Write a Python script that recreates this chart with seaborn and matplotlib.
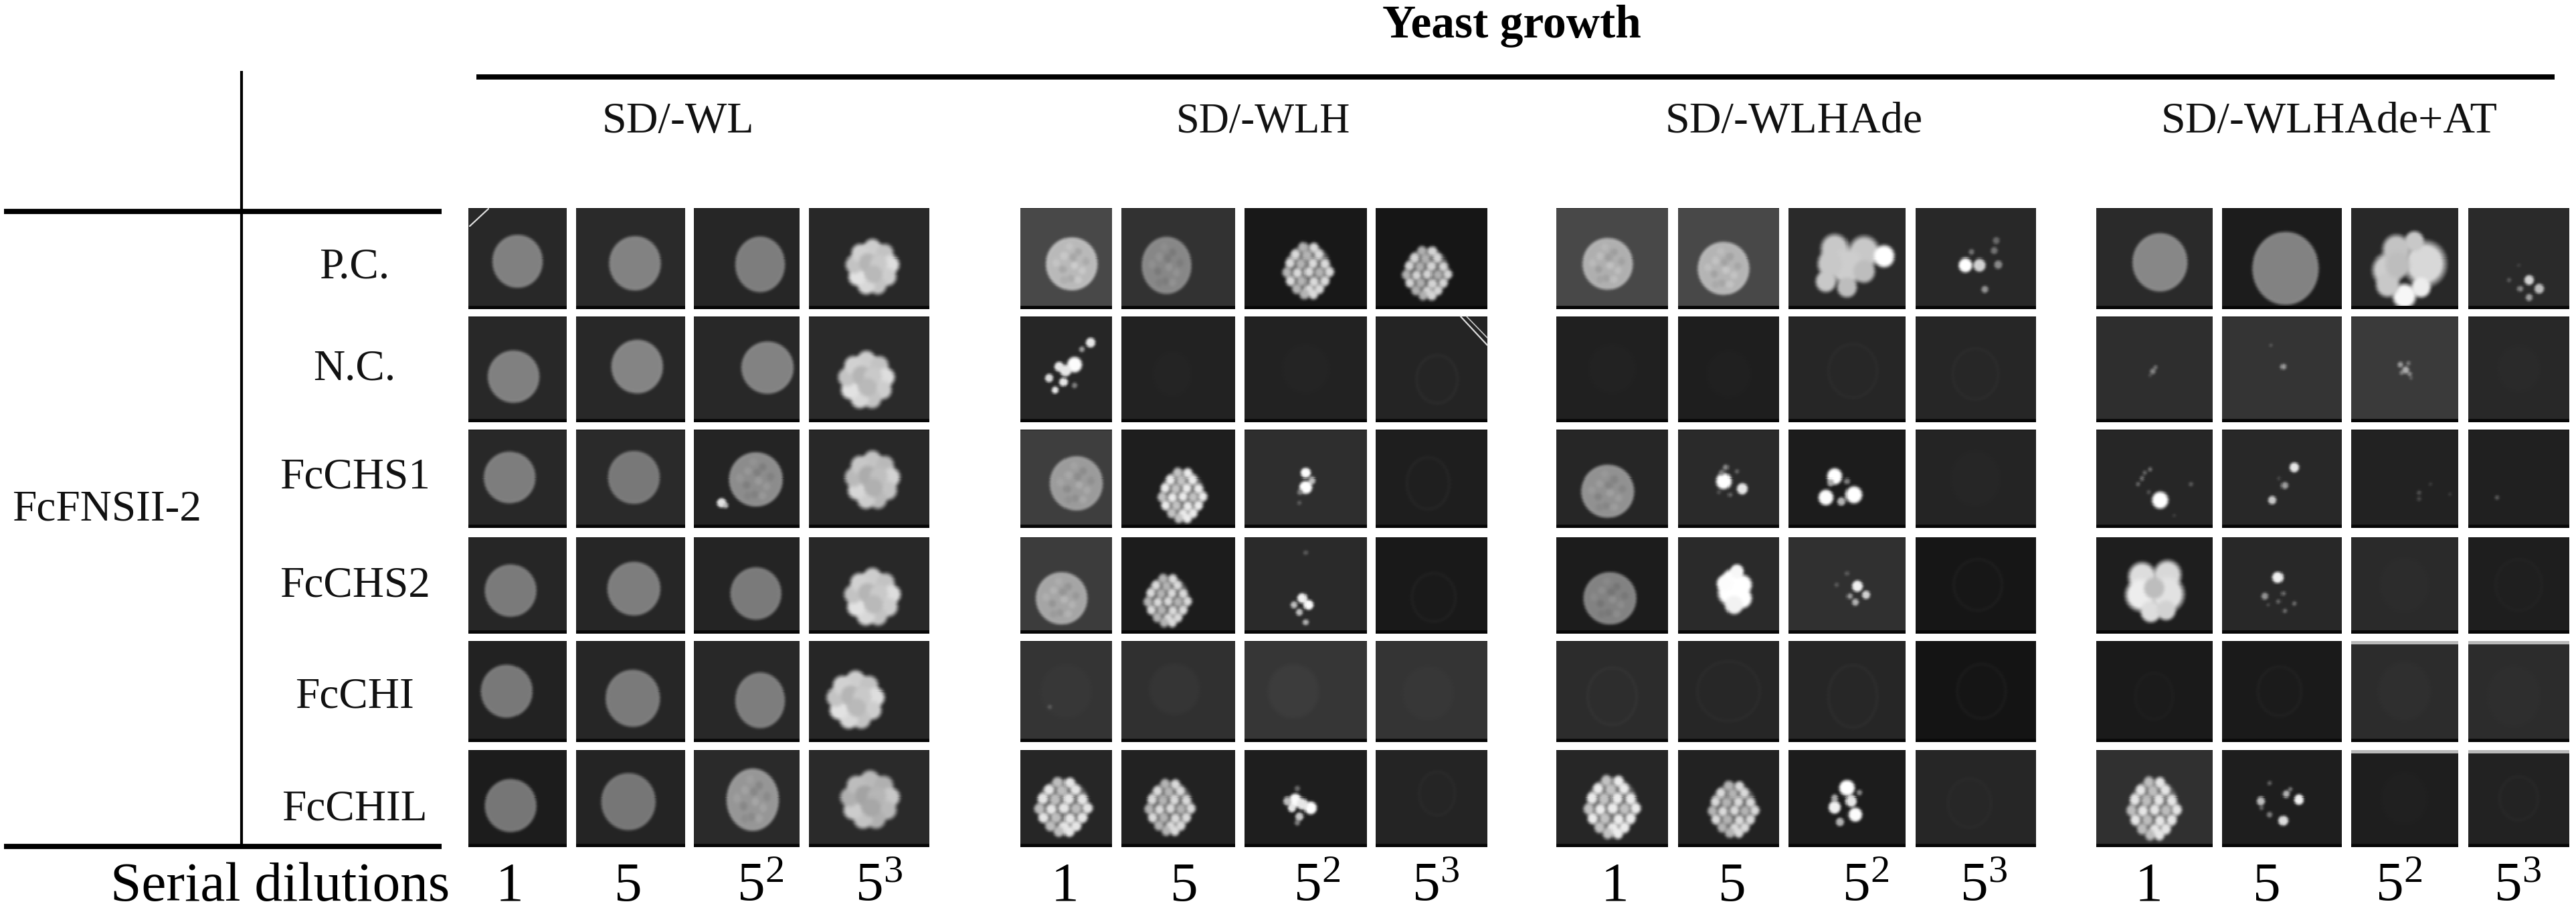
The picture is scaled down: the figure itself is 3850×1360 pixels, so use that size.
import numpy as np
import matplotlib
matplotlib.use("Agg")
import matplotlib.pyplot as plt
import seaborn as sns

# ---------------- labels ----------------
title = "Yeast growth"
media = ["SD/-WL", "SD/-WLH", "SD/-WLHAde", "SD/-WLHAde+AT"]
preys = ["P.C.", "N.C.", "FcCHS1", "FcCHS2", "FcCHI", "FcCHIL"]
bait = "FcFNSII-2"
dilution_title = "Serial dilutions"
dilutions = ["1", "5", "5$^{2}$", "5$^{3}$"]

# ---------------- plate background grey per spot (rows x 16) ----------------
background = [
    [40, 42, 38, 40,  72, 50, 24, 22,  72, 72, 42, 40,  42, 28, 40, 42],
    [40, 40, 40, 42,  38, 34, 34, 36,  32, 30, 38, 38,  46, 52, 58, 40],
    [40, 42, 36, 40,  62, 30, 46, 30,  38, 42, 28, 36,  38, 40, 34, 32],
    [38, 38, 36, 40,  60, 28, 42, 25,  28, 42, 48, 22,  30, 40, 42, 30],
    [34, 38, 40, 38,  52, 48, 54, 52,  44, 38, 38, 20,  26, 26, 44, 44],
    [28, 36, 42, 42,  38, 34, 30, 36,  38, 34, 28, 38,  48, 30, 30, 34],
]
top_glare = {(4, 14), (4, 15), (5, 14), (5, 15)}

# ---------------- specks: (dx, dy, radius, grey) ----------------
sp_nc_h1 = [(36,-39,7,220),(23,-29,4,150),(12,-6,11,240),(-10,-3,7,220),(-1,3,8,220),(-25,14,6,210),(-4,20,6,220),(12,25,4,120),(-16,32,5,220)]
sp_pc_a4 = [(-15,10,10,250),(6,10,9,200),(34,9,6,130),(-6,-9,4,110),(28,-11,5,110),(31,-26,5,100),(14,46,5,140)]
sp_pc_t4 = [(15,32,7,200),(30,45,7,180),(2,45,4,130),(15,58,5,150),(-14,32,3,90),(0,10,2,70)]
sp_s1_h3 = [(0,-8,7,240),(9,3,5,180),(0,13,9,250),(-8,20,4,120),(-9,36,3,90)]
sp_s1_a2 = [(-7,4,11,255),(20,15,8,220),(-4,-16,4,130),(-10,-8,4,120),(12,-10,3,100),(2,24,3,100),(-14,20,3,80)]
sp_s1_a3 = [(-18,-3,11,250),(-31,28,11,240),(10,24,12,250),(-24,6,5,160),(0,4,4,120),(-8,34,6,170)]
sp_s1_t1 = [(9,32,12,255),(-18,0,3,110),(-6,-13,3,110),(-24,8,3,100),(-14,-8,3,100),(55,8,3,90),(30,55,2,70),(-8,20,3,80)]
sp_s1_t2 = [(18,-16,7,220),(4,10,5,150),(-14,32,6,190),(-4,0,2,80)]
sp_s1_t3 = [(22,21,3,80),(39,8,2,70),(68,23,2,65),(22,30,3,70)]
sp_s1_t4 = [(-32,28,3,90)]
sp_s2_h3 = [(-5,20,7,230),(4,30,7,240),(-9,41,5,180),(-17,30,5,180),(0,56,4,170),(0,-48,3,90)]
sp_s2_a3 = [(15,2,8,230),(28,15,6,200),(4,17,4,150),(12,26,5,170),(0,-17,3,90),(-15,0,3,90)]
sp_s2_t2 = [(-6,-11,8,230),(-25,17,5,140),(2,13,3,110),(18,28,3,110),(4,39,3,110),(-20,30,2,90),(-5,25,3,100)]
sp_il_h3 = [(-15,3,9,240),(7,14,9,250),(-9,27,6,190),(-27,4,6,180),(-12,-14,4,100),(-20,14,6,220),(-5,8,8,220),(-12,36,4,120)]
sp_il_a3 = [(0,-15,11,250),(-18,13,9,230),(12,24,10,240),(6,4,8,220),(-10,35,6,170),(-18,0,5,160),(18,-8,4,130)]
sp_il_t2 = [(25,2,7,230),(-31,4,6,180),(6,-6,5,170),(-18,-22,3,100),(2,33,7,210),(-18,24,4,120),(-30,14,3,100),(12,-13,3,120)]
sp_nc_t1 = [(-2,4,4,125),(2,-2,3,110),(-6,10,2,90)]
sp_nc_t2 = [(2,-3,4,150),(-16,-35,2,100)]
sp_nc_t3 = [(-6,-6,4,150),(2,2,5,165),(8,8,3,140),(-4,6,3,130),(6,-8,3,120),(10,14,2,110)]
sp_chs1_w3 = [(-37,36,7,225),(-31,40,4,190)]
sp_chi_h1 = [(-24,23,3,95)]

# merged lumps of big cells: (dx, dy, radius, grey)
lump_pc_a3 = [(-18,-14,20,190),(25,-9,22,190),(0,12,24,195),(55,-3,15,245),(-31,34,15,190),(0,43,14,180),(25,19,16,180),(-25,8,18,190)]
lump_pc_t3 = [(-25,17,22,195),(31,8,30,205),(-12,-13,20,185),(0,56,17,235),(25,43,14,225),(-25,39,17,190),(15,-25,14,190),(-10,10,18,180)]
lump_s2_a2 = [(5,-8,14,245),(20,0,14,250),(2,12,17,255),(20,20,14,245),(8,30,13,230),(-5,-2,12,240),(12,-20,10,235)]
lump_s2_t1 = [(-18,-12,20,210),(20,-15,20,205),(-20,15,22,225),(20,14,24,215),(-5,40,15,210),(18,38,14,200),(0,5,15,180)]

# ---------------- spots per prey: (kind, fx, fy, rx, ry, grey) ----------------
# L lawn, M mottled lawn, C coarse cells, F fine cells, G ghost print, R ghost ring
spots_pc = [("L",.50,.53,37,39,128),("L",.54,.55,38,40,130),("L",.63,.56,37,41,125),("C",.53,.58,37,38,205),
            ("M",.56,.555,38,39,185),("M",.40,.57,37,42,135),("F",.52,.61,37,40,190),("F",.46,.635,36,38,185),
            ("M",.46,.555,37,38,175),("M",.45,.60,38,39,180),lump_pc_a3,sp_pc_a4,
            ("L",.55,.54,41,43,135),("L",.53,.60,49,54,130),lump_pc_t3,sp_pc_t4]
spots_nc = [("L",.46,.575,38,39,128),("L",.56,.48,38,40,132),("L",.70,.49,39,39,130),("C",.48,.60,39,40,205),
            sp_nc_h1,("G",.45,.55,30,35,2),("G",.5,.5,36,38,2),("R",.55,.6,32,38,5),
            ("G",.5,.5,36,38,2),("G",.5,.55,34,36,2),("R",.55,.52,38,42,3),("R",.5,.55,36,40,3),
            sp_nc_t1,sp_nc_t2,sp_nc_t3,("G",.5,.5,32,36,2)]
spots_s1 = [("L",.42,.49,38,38,125),("L",.53,.49,38,39,120),("M",.59,.51,40,40,140),("C",.53,.51,38,40,195),
            ("M",.61,.55,39,40,155),("F",.54,.66,36,39,205),sp_s1_h3,("R",.47,.55,33,40,5),
            ("M",.46,.63,39,39,145),sp_s1_a2,sp_s1_a3,("G",.5,.5,38,42,2),
            sp_s1_t1,sp_s1_t2,sp_s1_t3,sp_s1_t4]
spots_s2 = [("L",.43,.56,38,39,122),("L",.53,.54,39,40,125),("L",.59,.59,38,39,122),("C",.53,.62,39,40,205),
            ("M",.45,.64,38,39,165),("F",.41,.65,35,38,190),sp_s2_h3,("R",.52,.63,34,38,5),
            ("M",.48,.64,39,39,130),lump_s2_a2,sp_s2_a3,("R",.52,.5,38,40,5),
            lump_s2_t1,sp_s2_t2,("G",.5,.5,38,42,2),("R",.5,.5,36,40,2)]
spots_hi = [("L",.39,.50,38,39,120),("L",.52,.57,40,42,122),("L",.63,.59,37,41,125),("C",.39,.58,40,40,205),
            ("G",.5,.5,38,40,3),("G",.47,.48,38,38,5),("G",.4,.5,38,40,6),("G",.47,.52,38,40,3),
            ("R",.5,.55,38,44,4),("R",.5,.5,48,46,3),("R",.55,.55,38,48,4),("R",.55,.5,38,42,5),
            ("R",.5,.55,30,36,2),("R",.48,.5,34,38,4),("G",.5,.5,40,44,3),("G",.45,.55,40,46,2)]
spots_il = [("L",.43,.575,38,39,118),("L",.48,.535,40,42,118),("M",.56,.515,39,46,150),("C",.51,.51,41,40,185),
            ("F",.47,.575,42,42,200),("F",.43,.58,37,40,190),sp_il_h3,("R",.55,.45,28,34,3),
            ("F",.50,.575,41,45,205),("F",.55,.60,37,40,190),sp_il_a3,("R",.45,.55,34,38,2),
            ("F",.50,.59,40,45,200),sp_il_t2,("G",.5,.5,36,40,2),("R",.5,.5,30,34,3)]
spot_rows = [spots_pc, spots_nc, spots_s1, spots_s2, spots_hi, spots_il]

FINE = [(-.2,-.82),(.22,-.8),(-.5,-.55),(-.05,-.52),(.42,-.55),(-.72,-.25),(-.28,-.22),(.18,-.24),(.66,-.22),
        (-.85,.1),(-.42,.12),(.02,.08),(.44,.1),(.85,.08),(-.7,.42),(-.25,.42),(.22,.45),(.66,.42),
        (-.45,.72),(.02,.74),(.44,.72),(-.15,.92),(.2,.92)]
COARSE = [(0,-.72),(.5,-.52),(.74,-.08),(.62,.4),(.22,.74),(-.25,.74),(-.62,.4),(-.74,-.08),(-.5,-.52),(-.2,-.15),(.25,-.1),(.05,.3)]
COARSE_TONE = [1,.95,1.08,1,.95,1.05,1.1,.95,1.02,.88,.98,.9]
MOTTLE = [(-.3,-.3),(.25,-.45),(.1,.05),(-.35,.2),(.4,.25),(-.05,.55),(-.1,-.65),(.55,-.1),(-.6,-.05),(.25,.6),(-.3,.6),(.05,-.25)]
MOTTLE_TONE = [1.08,.9,1.1,.9,1.08,.92,1.05,.92,1.06,1.08,.94,.9]

# ---------------- layout (reference pixels) ----------------
W, H = 3850, 1360
col_edges = [(700,847),(861,1024),(1037,1195),(1209,1389),
             (1525,1662),(1676,1846),(1860,2043),(2056,2223),
             (2326,2493),(2508,2659),(2673,2848),(2863,3043),
             (3133,3307),(3321,3500),(3514,3674),(3689,3840)]
row_edges = [(311,462),(473,631),(642,789),(803,947),(958,1109),(1121,1266)]
col_label_x = [761,939,1136,1314, 1592,1770,1968,2146, 2414,2589,2788,2965, 3212,3388,3585,3763]
media_x = [1013, 1888, 2681, 3481]
media_size = [47.5, 45, 47.5, 47.5]
prey_y = [400, 552, 714, 876, 1042, 1210]


def blob(g, xx, yy, cx, cy, rx, ry, v, soft=3.5):
    d = np.sqrt(((xx - cx) / rx) ** 2 + ((yy - cy) / ry) ** 2)
    w = np.clip((1 - d) * min(rx, ry) / soft + .5, 0, 1)
    g[:] = g * (1 - w) + v * w


def smooth(g):
    kernel = np.array([.25, .5, .25])
    g = np.apply_along_axis(lambda m: np.convolve(np.pad(m, 1, mode="edge"), kernel, mode="valid"), 0, g)
    g = np.apply_along_axis(lambda m: np.convolve(np.pad(m, 1, mode="edge"), kernel, mode="valid"), 1, g)
    return g


def render(bg, spec, w, h, glare, extra=None):
    step = 2
    xs = np.arange(step / 2, w, step)
    ys = np.arange(step / 2, h, step)
    xx, yy = np.meshgrid(xs, ys)
    g = np.full(xx.shape, float(bg))
    if isinstance(spec, list):
        for dx, dy, r, v in spec:
            blob(g, xx, yy, w / 2 + dx, h / 2 + dy, r, r * 1.05, min(255, v * 1.05), soft=max(2.5, r * .4))
    else:
        kind, fx, fy, rx, ry, v = spec
        cx, cy = fx * w, fy * h
        if kind in "LM":
            blob(g, xx, yy, cx, cy, rx, ry, v + 8, soft=4)
            blob(g, xx, yy, cx, cy, rx - 3, ry - 3, v, soft=5)
            if kind == "M":
                for (ux, uy), t in zip(MOTTLE, MOTTLE_TONE):
                    blob(g, xx, yy, cx + ux * rx, cy + uy * ry, rx * .14, ry * .14, v * t, soft=4)
        elif kind == "C":
            blob(g, xx, yy, cx, cy, rx * .9, ry * .9, v * .9, soft=4)
            for (ux, uy), t in zip(COARSE, COARSE_TONE):
                blob(g, xx, yy, cx + ux * rx, cy + uy * ry, rx * .34, ry * .34, min(255, v * t), soft=7)
        elif kind == "F":
            blob(g, xx, yy, cx, cy, rx * .92, ry * .92, v * .5, soft=5)
            for i, (ux, uy) in enumerate(FINE):
                blob(g, xx, yy, cx + ux * rx, cy + uy * ry, rx * .18, ry * .18, min(255, v * (1.15 if i % 3 else .95)), soft=5)
        elif kind == "G":
            blob(g, xx, yy, cx, cy, rx, ry, bg + v, soft=7)
        elif kind == "R":
            blob(g, xx, yy, cx, cy, rx, ry, bg + v + 3, soft=3)
            blob(g, xx, yy, cx, cy, rx - 4, ry - 4, bg + 1, soft=4)
    if extra:
        for dx, dy, rad, v in extra:
            blob(g, xx, yy, w / 2 + dx, h / 2 + dy, rad, rad, v, soft=2.5)
    g = smooth(g)
    g[0, :] = bg * .35
    g[-1, :] = 5
    g[-2, :] = 10
    if glare:
        g[:3, :] = 185
    return np.clip(g, 0, 255)


sns.set_theme(style="white")
plt.rcParams["font.family"] = ["Liberation Serif", "DejaVu Serif"]
plt.rcParams["mathtext.fontset"] = "custom"
plt.rcParams["mathtext.rm"] = "Liberation Serif"
plt.rcParams["mathtext.default"] = "rm"
fig = plt.figure(figsize=(W / 100, H / 100), dpi=100, facecolor="white")

for r, (y0, y1) in enumerate(row_edges):
    for c, (x0, x1) in enumerate(col_edges):
        ax = fig.add_axes([x0 / W, 1 - y1 / H, (x1 - x0) / W, (y1 - y0) / H])
        extra = sp_chs1_w3 if (r, c) == (2, 2) else sp_chi_h1 if (r, c) == (4, 4) else None
        grid = render(background[r][c], spot_rows[r][c], x1 - x0, y1 - y0, (r, c) in top_glare, extra)
        sns.heatmap(grid, ax=ax, vmin=0, vmax=255, cmap="gray", cbar=False,
                    xticklabels=False, yticklabels=False, rasterized=True)
        ax.collections[0].set_edgecolor("face")
        ax.collections[0].set_linewidth(0.3)

# overlay for rules and text
ov = fig.add_axes([0, 0, 1, 1], facecolor="none")
ov.set_xlim(0, W)
ov.set_ylim(H, 0)
ov.axis("off")
ov.hlines(115, 712, 3818, color="black", lw=5.6)
ov.hlines([316, 1265], 6, 660, color="black", lw=5.6)
ov.vlines(361, 106, 1265, color="black", lw=3)
ov.plot([702, 730], [338, 312], color="#dddddd", lw=1.6)
ov.plot([2183, 2223], [473, 516], color="#dddddd", lw=1.6)
ov.plot([2192, 2223], [473, 505], color="#cccccc", lw=1.2)

ov.text(2259, 39, title, ha="center", va="center", fontsize=50, fontweight="bold", color="black")
for x, m, s in zip(media_x, media, media_size):
    ov.text(x, 182, m, ha="center", va="center", fontsize=s, color="#111111")
for y, p in zip(prey_y, preys):
    ov.text(530, y, p, ha="center", va="center", fontsize=47, color="#111111")
ov.text(160, 762, bait, ha="center", va="center", fontsize=47, color="#111111")
ov.text(672, 1346, dilution_title, ha="right", va="baseline", fontsize=60, color="black")
for i, x in enumerate(col_label_x):
    ov.text(x, 1346, dilutions[i % 4], ha="center", va="baseline", fontsize=60, color="black")

fig.savefig("out.png", dpi=100, facecolor="white")
